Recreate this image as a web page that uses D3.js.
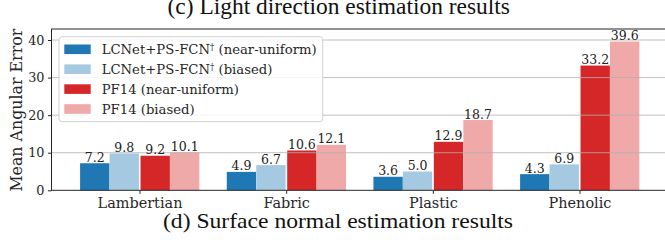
<!DOCTYPE html>
<html><head><meta charset="utf-8">
<script src="https://cdn.jsdelivr.net/npm/d3@7"></script>
<style>html,body{margin:0;padding:0;background:#fff;overflow:hidden}</style>
</head><body>
<svg id="chart" width="665" height="240"></svg>
<script>
const categories = ["Lambertian", "Fabric", "Plastic", "Phenolic"];
const seriesNames = ["LCNet+PS-FCN\u2020 (near-uniform)", "LCNet+PS-FCN\u2020 (biased)", "PF14 (near-uniform)", "PF14 (biased)"];
const lcnetUniform = [7.2, 4.9, 3.6, 4.3];
const lcnetBiased = [9.8, 6.7, 5.0, 6.9];
const pf14Uniform = [9.2, 10.6, 12.9, 33.2];
const pf14Biased = [10.1, 12.1, 18.7, 39.6];
const yTicks = [0, 10, 20, 30, 40];
const titleTop = "(c) Light direction estimation results";
const titleBottom = "(d) Surface normal estimation results";
const yLabel = "Mean Angular Error";

(function () {
const series = [lcnetUniform, lcnetBiased, pf14Uniform, pf14Biased];
const colors = ["#1f77b4", "#a5c9e1", "#d62728", "#efa9a9"];
const offsets = [-0.405, -0.204, 0.007, 0.208];
const barW = 0.2;

const svg = d3.select("#chart");
const pL = 51.5, pR = 667.5, pT = 29, pB = 190.3;
const x = d3.scaleLinear().domain([-0.6, 3.6]).range([pL, pR]);
const y = d3.scaleLinear().domain([0, 42.93]).range([pB, pT]);
const serif = "'DejaVu Serif', serif";

function fit(sel, target) {
  const fs = parseFloat(sel.attr("font-size"));
  const w = sel.node().getComputedTextLength();
  if (w > 0) sel.attr("font-size", (fs * target / w).toFixed(2));
}

// bars
series.forEach((vals, si) => {
  svg.append("g").selectAll("rect").data(vals).join("rect")
    .attr("x", (d, i) => x(i + offsets[si]))
    .attr("width", x(barW) - x(0))
    .attr("y", d => y(d))
    .attr("height", d => y(0) - y(d))
    .attr("fill", colors[si]);
});

// grid (over bars)
svg.append("g").selectAll("line").data(yTicks.filter(t => t > 0)).join("line")
  .attr("x1", pL).attr("x2", pR)
  .attr("y1", d => y(d)).attr("y2", d => y(d))
  .attr("stroke", "#b0b0b0").attr("stroke-opacity", 0.8).attr("stroke-width", 1);

// value labels
series.forEach((vals, si) => {
  svg.append("g").selectAll("text").data(vals).join("text")
    .attr("x", (d, i) => x(i + offsets[si] + barW / 2))
    .attr("y", d => y(d) - 1.5)
    .attr("text-anchor", "middle")
    .attr("font-family", serif).attr("font-size", 12.5)
    .attr("fill", "#222")
    .text(d => d.toFixed(1));
});

// frame
svg.append("rect").attr("x", pL).attr("y", pT).attr("width", pR - pL).attr("height", pB - pT)
  .attr("fill", "none").attr("stroke", "#262626").attr("stroke-width", 1);

// y axis
const yAxis = svg.append("g").attr("transform", `translate(${pL},0)`)
  .call(d3.axisLeft(y).tickValues(yTicks).tickSize(3.5).tickPadding(3.5).tickFormat(d3.format("d")));
yAxis.select(".domain").remove();
yAxis.selectAll("line").attr("stroke", "#262626");
yAxis.selectAll("text").attr("font-family", serif).attr("font-size", 12.8).attr("fill", "#262626");

// x axis
const xAxis = svg.append("g").attr("transform", `translate(0,${pB})`)
  .call(d3.axisBottom(x).tickValues(d3.range(categories.length)).tickSize(3.5).tickPadding(3.5).tickFormat(i => categories[i]));
xAxis.select(".domain").remove();
xAxis.selectAll("line").attr("stroke", "#262626");
const catText = xAxis.selectAll("text").attr("font-family", serif).attr("font-size", 12.5).attr("fill", "#262626");
const first = catText.filter((d, i) => i === 0);
fit(first, 85);
catText.attr("font-size", first.attr("font-size"));

// y label
const yl = svg.append("text")
  .attr("transform", `translate(21.5,${(pT + pB) / 2 + 0.5}) rotate(-90)`)
  .attr("text-anchor", "middle")
  .attr("font-family", serif).attr("font-size", 15).attr("fill", "#262626")
  .text(yLabel);
fit(yl, 163);

// legend
const lg = svg.append("g");
lg.append("rect").attr("x", 59).attr("y", 36.7).attr("width", 263.7).attr("height", 85)
  .attr("rx", 3).attr("fill", "#fff").attr("fill-opacity", 0.85).attr("stroke", "#d0d0d0").attr("stroke-width", 1);
const legTexts = [];
seriesNames.forEach((name, i) => {
  const yy = 44.5 + i * 19.9;
  lg.append("rect").attr("x", 64.3).attr("y", yy).attr("width", 26.4).attr("height", 9.6).attr("fill", colors[i]);
  const t = lg.append("text").attr("x", 101.7).attr("y", yy + 9.5)
    .attr("font-family", serif).attr("font-size", 12.5).attr("fill", "#262626");
  // render the dagger as a superscript
  const parts = name.split("\u2020");
  parts.forEach((p, k) => {
    if (k > 0) t.append("tspan").attr("font-size", "65%").attr("dy", "-0.45em").text("\u2020");
    const ts = t.append("tspan").text(p);
    if (k > 0) ts.attr("dy", "0.29em");
  });
  legTexts.push(t);
});
fit(legTexts[0], 215);
legTexts.forEach(t => t.attr("font-size", legTexts[0].attr("font-size")));

// captions
const cap = "'Liberation Serif', serif";
svg.append("text").attr("x", 167.5).attr("y", 14).attr("font-family", cap).attr("font-size", 22.6)
  .attr("fill", "#111").attr("textLength", 342.5).attr("lengthAdjust", "spacingAndGlyphs").text(titleTop);
svg.append("text").attr("x", 163).attr("y", 227.5).attr("font-family", cap).attr("font-size", 22)
  .attr("fill", "#111").attr("textLength", 350).attr("lengthAdjust", "spacingAndGlyphs").text(titleBottom);
})();
</script>
</body></html>
